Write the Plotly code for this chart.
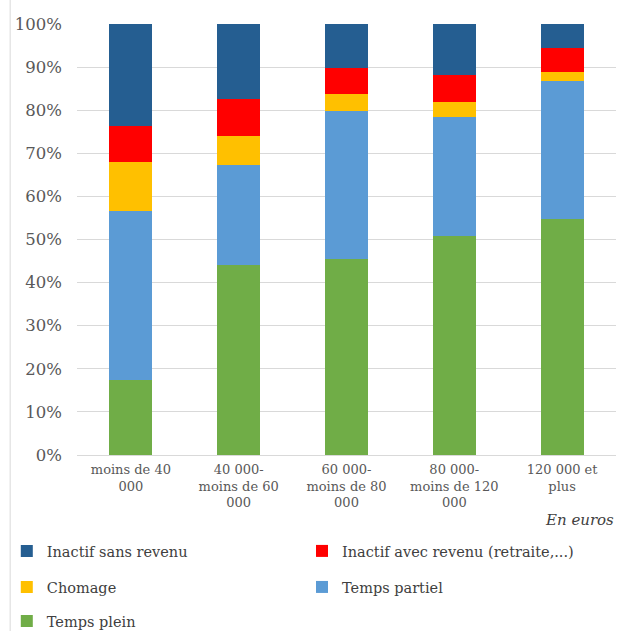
import plotly.graph_objects as go

categories = ["moins de 40<br>000", "40 000-<br>moins de 60<br>000", "60 000-<br>moins de 80<br>000",
              "80 000-<br>moins de 120<br>000", "120 000 et<br>plus"]
temps_plein = [17.3, 44.1, 45.5, 50.7, 54.7]
temps_partiel = [39.4, 23.3, 34.3, 27.8, 32.1]
chomage = [11.2, 6.6, 4.0, 3.3, 2.1]
inactif_avec = [8.5, 8.5, 5.9, 6.3, 5.5]
inactif_sans = [23.6, 17.5, 10.3, 11.9, 5.6]
y_ticks = [0, 10, 20, 30, 40, 50, 60, 70, 80, 90, 100]

FONT = "DejaVu Serif"
fig = go.Figure()
series = [
    ("Temps plein", temps_plein, "#70AD47", "legend5"),
    ("Temps partiel", temps_partiel, "#5B9BD5", "legend4"),
    ("Chomage", chomage, "#FFC000", "legend3"),
    ("Inactif avec revenu (retraite,...)", inactif_avec, "#FF0000", "legend2"),
    ("Inactif sans revenu", inactif_sans, "#255E91", "legend"),
]
for name, vals, col, lg in series:
    fig.add_trace(go.Bar(x=categories, y=vals, name=name, marker_color=col,
                         marker_line_width=0, legend=lg))

def leg(x, y):
    return dict(orientation="h", font=dict(family=FONT, size=14.5, color="#404040"),
                bgcolor="rgba(0,0,0,0)", xanchor="left", yanchor="middle",
                xref="container", yref="container",
                itemwidth=30, x=x, y=y)

XL, XR = 0.011, 0.4887
fig.update_layout(
    width=618, height=631,
    margin=dict(l=77, r=2, t=24, b=176, autoexpand=False),
    plot_bgcolor="white", paper_bgcolor="white",
    barmode="stack", bargap=0.6,
    showlegend=True,
    legend=leg(XL, 0.1268),
    legend2=leg(XR, 0.1268),
    legend3=leg(XL, 0.0697),
    legend4=leg(XR, 0.0697),
    legend5=leg(XL, 0.0158),
    xaxis=dict(tickfont=dict(family=FONT, size=13, color="#595959"), automargin=False,
               showline=True, linecolor="#d9d9d9", linewidth=1, ticks="",
               ticklabelstandoff=2),
    yaxis=dict(range=[0, 100], tickvals=y_ticks, ticktext=[f"{v}%" for v in y_ticks],
               tickfont=dict(family=FONT, size=16.5, color="#595959"), automargin=False,
               showgrid=True, gridcolor="#d9d9d9", gridwidth=1, zeroline=False,
               ticks="", ticklabelstandoff=14),
    annotations=[dict(text="<i>En euros</i>", xref="paper", yref="paper", x=1.0, y=-0.151,
                      xanchor="right", yanchor="middle", showarrow=False,
                      font=dict(family=FONT, size=15, color="#404040"))],
    shapes=[dict(type="line", xref="paper", yref="paper", x0=-0.124, x1=-0.124, y0=-0.5, y1=1.1,
                 line=dict(color="#d9d9d9", width=1))],
)
fig.write_html("out.html")
